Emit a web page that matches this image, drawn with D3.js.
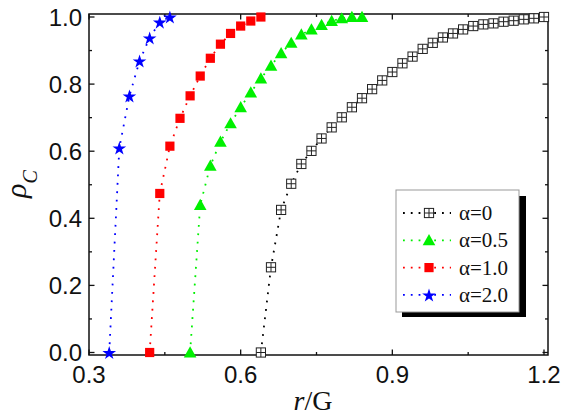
<!DOCTYPE html>
<html>
<head>
<meta charset="utf-8">
<script src="https://cdn.jsdelivr.net/npm/d3@7"></script>
<style>
  html, body { margin: 0; padding: 0; background: #fff; }
  svg { display: block; }
</style>
</head>
<body>
<svg id="chart" width="566" height="416"></svg>
<script>
// ---- data ----
const seriesLabels = ["α=0", "α=0.5", "α=1.0", "α=2.0"];
const seriesColors = ["#000000", "#00f000", "#ff0000", "#0000ff"];
const seriesShapes = ["boxcross", "triangle", "square", "star"];

const xA0 = [0.64,0.66,0.68,0.70,0.72,0.74,0.76,0.78,0.80,0.82,0.84,0.86,0.88,0.90,0.92,0.94,0.96,0.98,1.00,1.02,1.04,1.06,1.08,1.10,1.12,1.14,1.16,1.18,1.20];
const yA0 = [0,0.254,0.425,0.503,0.562,0.601,0.638,0.671,0.701,0.731,0.758,0.785,0.811,0.836,0.862,0.882,0.905,0.923,0.939,0.951,0.963,0.973,0.978,0.981,0.986,0.989,0.993,0.996,1.0];

const xA05 = [0.50,0.52,0.54,0.56,0.58,0.60,0.62,0.64,0.66,0.68,0.70,0.72,0.74,0.76,0.78,0.80,0.82,0.84];
const yA05 = [0,0.44,0.557,0.628,0.683,0.731,0.775,0.817,0.855,0.892,0.923,0.948,0.963,0.976,0.988,0.996,1.0,1.0];

const xA10 = [0.42,0.44,0.46,0.48,0.50,0.52,0.54,0.56,0.58,0.60,0.62,0.64];
const yA10 = [0,0.474,0.615,0.698,0.765,0.824,0.877,0.919,0.951,0.973,0.988,1.0];

const xA20 = [0.34,0.36,0.38,0.40,0.42,0.44,0.46];
const yA20 = [0,0.610,0.765,0.869,0.938,0.985,1.0];

const xMajorTicks = [0.3, 0.6, 0.9, 1.2];
const xMinorTicks = [0.45, 0.75, 1.05];
const yMajorTicks = [0.0, 0.2, 0.4, 0.6, 0.8, 1.0];
const yMinorTicks = [0.1, 0.3, 0.5, 0.7, 0.9];

// ---- layout ----
const L = 89, R = 548, T = 14, B = 355;
const x = d3.scaleLinear().domain([0.3, 1.2]).range([89, 544]);
const y = d3.scaleLinear().domain([0, 1]).range([352.5, 17]);

const svg = d3.select("#chart");

// frame
svg.append("rect").attr("x", L).attr("y", T).attr("width", R - L).attr("height", B - T)
  .attr("fill", "none").attr("stroke", "#111").attr("stroke-width", 1.5);

const tickG = svg.append("g").attr("stroke", "#111").attr("stroke-width", 1.3);
function xt(v, len) {
  tickG.append("line").attr("x1", x(v)).attr("x2", x(v)).attr("y1", B).attr("y2", B - len);
  tickG.append("line").attr("x1", x(v)).attr("x2", x(v)).attr("y1", T).attr("y2", T + len);
}
function yt(v, len) {
  tickG.append("line").attr("y1", y(v)).attr("y2", y(v)).attr("x1", L).attr("x2", L + len);
  tickG.append("line").attr("y1", y(v)).attr("y2", y(v)).attr("x1", R).attr("x2", R - len);
}
xMajorTicks.forEach(v => xt(v, 5.5));
xMinorTicks.forEach(v => xt(v, 3));
yMajorTicks.forEach(v => yt(v, 5.5));
yMinorTicks.forEach(v => yt(v, 3));

// tick labels
const fmt = d3.format(".1f");
svg.append("g").selectAll("text").data(xMajorTicks).join("text")
  .attr("x", d => x(d)).attr("y", 383).attr("text-anchor", "middle")
  .attr("font-family", "Liberation Sans, Arial, sans-serif").attr("font-size", 24)
  .attr("fill", "#111").text(d => fmt(d));
svg.append("g").selectAll("text").data(yMajorTicks).join("text")
  .attr("x", 82).attr("y", d => y(d) + 8.5).attr("text-anchor", "end")
  .attr("font-family", "Liberation Sans, Arial, sans-serif").attr("font-size", 24)
  .attr("fill", "#111").text(d => fmt(d));

// axis titles
const xt_ = svg.append("text").attr("x", 313).attr("y", 410).attr("text-anchor", "middle")
  .attr("font-family", "Liberation Serif, Times New Roman, serif").attr("font-size", 28).attr("fill", "#111");
xt_.append("tspan").attr("font-style", "italic").text("r");
xt_.append("tspan").text("/G");

const yt_ = svg.append("text").attr("transform", "translate(26,198) rotate(-90)")
  .attr("text-anchor", "start")
  .attr("font-family", "Liberation Serif, Times New Roman, serif").attr("fill", "#111");
yt_.append("tspan").attr("font-style", "italic").attr("font-size", 30).text("ρ");
yt_.append("tspan").attr("font-style", "italic").attr("font-size", 20).attr("dy", 11).text("C");

// ---- series ----
const series = [
  {xs: xA0, ys: yA0}, {xs: xA05, ys: yA05}, {xs: xA10, ys: yA10}, {xs: xA20, ys: yA20}
].map((s, i) => ({
  label: seriesLabels[i], color: seriesColors[i], shape: seriesShapes[i],
  pts: s.xs.map((xv, j) => [xv, s.ys[j]])
}));

const line = d3.line().x(d => x(d[0])).y(d => y(d[1]));

function drawMarker(g, shape, color, cx, cy) {
  if (shape === "boxcross") {
    const h = 4.6;
    g.append("rect").attr("x", cx - h).attr("y", cy - h).attr("width", 2 * h).attr("height", 2 * h)
      .attr("fill", "#fff").attr("stroke", "#222").attr("stroke-width", 1);
    g.append("path").attr("d", `M${cx - h},${cy}H${cx + h}M${cx},${cy - h}V${cy + h}`)
      .attr("stroke", "#222").attr("stroke-width", 1);
  } else if (shape === "triangle") {
    g.append("path").attr("d", `M${cx},${cy - 6.2}L${cx + 6.3},${cy + 5}L${cx - 6.3},${cy + 5}Z`)
      .attr("fill", color);
  } else if (shape === "square") {
    g.append("rect").attr("x", cx - 4.6).attr("y", cy - 4.6).attr("width", 9.2).attr("height", 9.2)
      .attr("fill", color);
  } else if (shape === "star") {
    g.append("path").attr("d", d3.symbol(d3.symbolStar, 58)())
      .attr("transform", `translate(${cx},${cy + 0.8})`).attr("fill", color);
  }
}

const dataG = svg.append("g");
series.forEach(s => {
  dataG.append("path").attr("d", line(s.pts)).attr("fill", "none")
    .attr("stroke", s.color).attr("stroke-width", 1.8).attr("stroke-dasharray", "1.8,6.6");
});
series.forEach(s => {
  const g = dataG.append("g");
  s.pts.forEach(p => drawMarker(g, s.shape, s.color, x(p[0]), y(p[1])));
});

// ---- legend ----
const lg = svg.append("g");
lg.append("rect").attr("x", 402).attr("y", 196).attr("width", 124).attr("height", 121).attr("fill", "#000");
lg.append("rect").attr("x", 396).attr("y", 190).attr("width", 123).attr("height", 122)
  .attr("fill", "#fff").attr("stroke", "#999").attr("stroke-width", 1);
series.forEach((s, i) => {
  const cy = 213 + i * 27.3;
  lg.append("line").attr("x1", 403).attr("x2", 451).attr("y1", cy).attr("y2", cy)
    .attr("stroke", s.color).attr("stroke-width", 1.8).attr("stroke-dasharray", "1.8,6");
  const mg = lg.append("g");
  drawMarker(mg, s.shape, s.color, 429, cy);
  lg.append("text").attr("x", 459).attr("y", cy + 7).attr("font-family", "Liberation Serif, Times New Roman, serif")
    .attr("font-size", 21).attr("fill", "#111").text(s.label);
});
</script>
</body>
</html>
